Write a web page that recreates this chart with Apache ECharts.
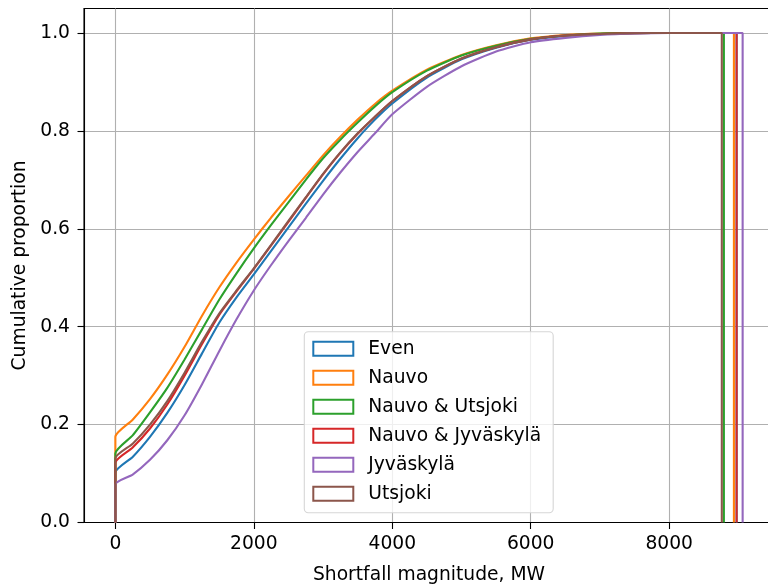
<!DOCTYPE html>
<html>
<head>
<meta charset="utf-8">
<script src="https://cdn.jsdelivr.net/npm/echarts@6/dist/echarts.min.js"></script>
<style>
  html, body { margin: 0; padding: 0; background: #fff; }
  #chart { width: 768px; height: 586px; }
</style>
</head>
<body>
<div id="chart"></div>
<script>
// Shortfall magnitude grid (MW) at which the cumulative proportions are sampled
const magnitudes = [0, 250, 500, 750, 1000, 1250, 1500, 1750, 2000, 2250, 2500, 2750, 3000,
  3250, 3500, 3750, 4000, 4500, 5000, 5500, 6000, 6500, 7000, 7500, 8000];

const scenarioNames = ['Even', 'Nauvo', 'Nauvo & Utsjoki', 'Nauvo & Jyväskylä', 'Jyväskylä', 'Utsjoki'];

// Cumulative proportion of shortfall events per scenario
const evenValues = [0.102, 0.134, 0.175, 0.224, 0.281, 0.345, 0.408, 0.460, 0.507, 0.555, 0.603, 0.651, 0.698,
  0.743, 0.785, 0.823, 0.856, 0.909, 0.946, 0.970, 0.986, 0.994, 0.998, 0.9995, 1.0];
const nauvoValues = [0.175, 0.210, 0.252, 0.302, 0.359, 0.422, 0.480, 0.531, 0.578, 0.623, 0.666, 0.708, 0.750,
  0.788, 0.823, 0.855, 0.882, 0.925, 0.955, 0.975, 0.989, 0.996, 0.999, 1.0, 1.0];
const nauvoUtsjokiValues = [0.141, 0.178, 0.225, 0.275, 0.333, 0.394, 0.455, 0.509, 0.560, 0.608, 0.654, 0.700, 0.744,
  0.782, 0.817, 0.850, 0.879, 0.923, 0.954, 0.974, 0.988, 0.995, 0.999, 1.0, 1.0];
const nauvoJyvaskylaValues = [0.122, 0.153, 0.192, 0.241, 0.300, 0.364, 0.424, 0.472, 0.518, 0.566, 0.614, 0.663, 0.711,
  0.755, 0.794, 0.829, 0.861, 0.912, 0.948, 0.971, 0.987, 0.995, 0.998, 0.9995, 1.0];
const jyvaskylaValues = [0.078, 0.098, 0.128, 0.168, 0.219, 0.282, 0.350, 0.415, 0.474, 0.526, 0.575, 0.622, 0.670,
  0.715, 0.757, 0.795, 0.834, 0.890, 0.932, 0.962, 0.981, 0.990, 0.996, 0.999, 1.0];
const utsjokiValues = [0.131, 0.161, 0.200, 0.248, 0.306, 0.369, 0.427, 0.474, 0.519, 0.567, 0.616, 0.664, 0.712,
  0.756, 0.795, 0.829, 0.861, 0.912, 0.948, 0.971, 0.987, 0.995, 0.998, 0.9995, 1.0];

// Largest shortfall per scenario (last histogram edge, where the step outline drops back to zero)
const maxShortfall = [8974, 8935, 8790, 8974, 9061, 8760];

const xTicks = [0, 2000, 4000, 6000, 8000];
const yTicks = [0, 0.2, 0.4, 0.6, 0.8, 1.0];

const colors = ['#1f77b4', '#ff7f0e', '#2ca02c', '#d62728', '#9467bd', '#8c564b'];
const allValues = [evenValues, nauvoValues, nauvoUtsjokiValues, nauvoJyvaskylaValues, jyvaskylaValues, utsjokiValues];

// Step-outline of a cumulative histogram: rise at 0, follow the curve, run flat to the end, drop to 0
function outline(values, end) {
  const pts = [[0, 0]];
  magnitudes.forEach((m, i) => pts.push([m, values[i]]));
  pts.push([end, 1.0]);
  pts.push([end, 0]);
  return pts;
}

const FONT = 'DejaVu Sans';
const FS = 18.7;

const xMin = -453, xMax = 9514;

const chart = echarts.init(document.getElementById('chart'), null, { renderer: 'canvas' });
chart.setOption({
  animation: false,
  backgroundColor: '#ffffff',
  textStyle: { fontFamily: FONT, color: '#000' },
  grid: {
    left: 84, top: 8.5, width: 690, bottom: 63.5,
    outerBoundsMode: 'none', containLabel: false,
    show: true, borderColor: '#000', borderWidth: 1.1, backgroundColor: 'transparent'
  },
  legend: {
    left: 304.3, top: 331.7,
    orient: 'vertical',
    padding: [7, 12, 9, 8],
    itemGap: 9,
    itemWidth: 40, itemHeight: 14,
    backgroundColor: 'rgba(255,255,255,0.8)',
    borderColor: '#d6d6d6', borderWidth: 1.1, borderRadius: 4,
    textStyle: { fontFamily: FONT, fontSize: FS, color: '#000', lineHeight: 20, padding: [0, 0, 0, 10] },
    data: scenarioNames.map((n, i) => ({
      name: n, icon: 'rect',
      itemStyle: { color: 'rgba(0,0,0,0)', borderColor: colors[i], borderWidth: 2 }
    }))
  },
  xAxis: {
    type: 'value', min: xMin, max: xMax,
    name: 'Shortfall magnitude, MW', nameLocation: 'middle', nameGap: 43,
    nameTextStyle: { fontFamily: FONT, fontSize: FS, color: '#000' },
    axisLine: { onZero: false, lineStyle: { color: '#000', width: 1.1 } },
    axisTick: { show: true, length: 6.5, lineStyle: { color: '#000', width: 1.1 }, customValues: xTicks },
    axisLabel: { customValues: xTicks, fontFamily: FONT, fontSize: FS, color: '#000', margin: 12,
      formatter: v => String(v) },
    splitLine: { show: true, lineStyle: { color: '#b0b0b0', width: 1.1 } }
  },
  yAxis: {
    type: 'value', min: 0, max: 1.05,
    name: 'Cumulative proportion', nameLocation: 'middle', nameGap: 52,
    nameTextStyle: { fontFamily: FONT, fontSize: FS, color: '#000' },
    axisLine: { show: true, onZero: false, lineStyle: { color: '#000', width: 1.1 } },
    axisTick: { show: true, length: 6.5, lineStyle: { color: '#000', width: 1.1 }, customValues: yTicks },
    axisLabel: { customValues: yTicks, fontFamily: FONT, fontSize: FS, color: '#000', margin: 14,
      formatter: v => v.toFixed(1) },
    splitLine: { show: true, lineStyle: { color: '#b0b0b0', width: 1.1 } }
  },
  series: scenarioNames.map((n, i) => ({
    name: n, type: 'line',
    data: outline(allValues[i], maxShortfall[i]),
    showSymbol: false, symbol: 'none',
    smooth: 0.2,
    color: colors[i],
    lineStyle: { color: colors[i], width: 2.1 },
    clip: true
  }))
});
</script>
</body>
</html>
